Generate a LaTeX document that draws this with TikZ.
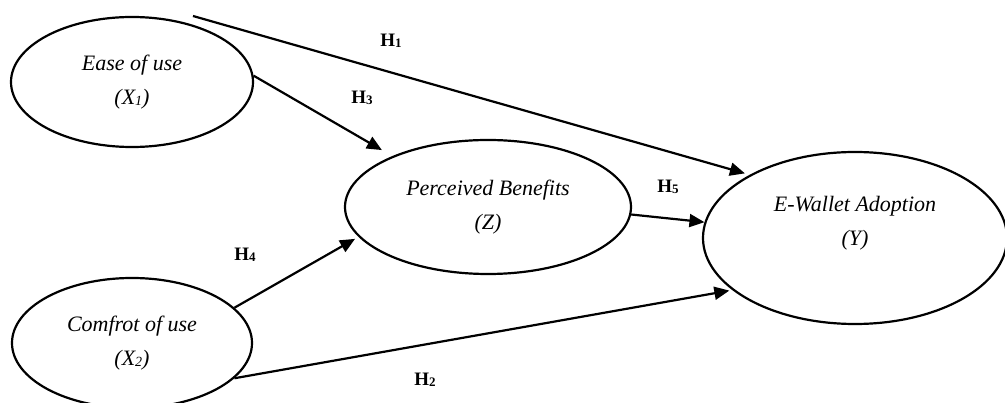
\documentclass[tikz,border=0pt]{standalone}
\usepackage{fontspec}
\setmainfont{Liberation Serif}
\usetikzlibrary{shapes.geometric,arrows.meta}
\newcommand{\sbx}[1]{\raisebox{-1pt}{\fontsize{14}{14}\selectfont #1}}
\newcommand{\hsb}[1]{\raisebox{-0.5pt}{\fontsize{13}{13}\selectfont #1}}
\begin{document}
\begin{tikzpicture}[x=1pt,y=-1pt,
  construct/.style={draw, line width=2.2pt, ellipse, inner sep=0pt, align=center,
    font=\fontsize{22}{34}\selectfont\itshape},
  link/.style={line width=2.2pt, -{Triangle[length=15pt,width=13pt]}},
  hlabel/.style={font=\fontsize{19}{19}\selectfont\bfseries, inner sep=0pt}]
\useasboundingbox (0,0) rectangle (1005,403);
\fill[white] (0,0) rectangle (1005,403);

\node[construct, minimum width=242pt, minimum height=130pt] (ease) at (132,82)
  {Ease of use\\(X\sbx{1})};
\node[construct, minimum width=240pt, minimum height=130pt] (comf) at (132,343)
  {Comfrot of use\\(X\sbx{2})};
\node[construct, minimum width=286pt, minimum height=134pt] (pb) at (488,207)
  {Perceived Benefits\\(Z)};
\node[construct, minimum width=304pt, minimum height=172pt] (ewa) at (855,238)
  {E-Wallet Adoption\\(Y)\\ };

\coordinate (h1s) at ([shift={(6,-7)}]ease.47);
\draw[link, shorten >=5pt] (h1s) -- (ewa.149);
\draw[link, shorten >=12pt] (ease.3) -- (pb.152);
\draw[link, shorten >=4pt] (comf.19) -- (pb.193);
\draw[link, shorten >=3pt] (comf.-19) -- (ewa.203);
\draw[link] (pb.-3) -- (ewa.174);

\node[hlabel] (h1) at (391,41) {H\hsb{1}};
\node[hlabel] (h3) at (362,98) {H\hsb{3}};
\node[hlabel] (h4) at (245,255) {H\hsb{4}};
\node[hlabel] (h2) at (425,380) {H\hsb{2}};
\node[hlabel] (h5) at (668,187) {H\hsb{5}};
\end{tikzpicture}
\end{document}
